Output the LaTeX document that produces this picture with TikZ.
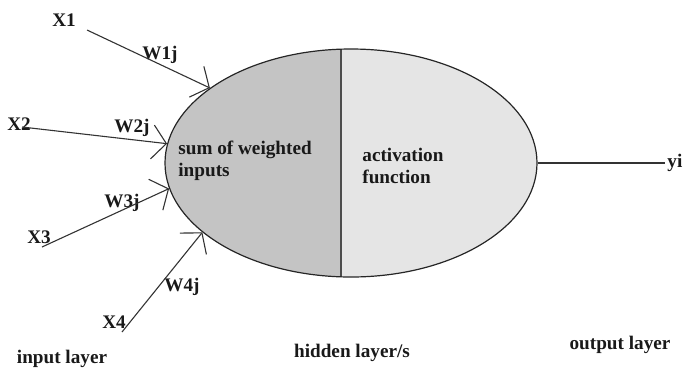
\documentclass[tikz,border=0pt]{standalone}
\usepackage{fontspec}
\setmainfont{Liberation Serif}
\usetikzlibrary{positioning,arrows.meta,shapes.geometric}

\begin{document}
\begin{tikzpicture}[
  x=0.5pt, y=-0.5pt,
  lbl/.style={font=\bfseries\fontsize{9.6}{11}\selectfont, inner sep=1pt, text=black!90},
  txt/.style={lbl, align=left, anchor=west},
  neuronshape/.style={ellipse, draw=black!85, line width=0.6pt, fill=black!10,
              minimum width=186pt, minimum height=114pt, inner sep=0pt,
              path picture={
                \fill[black!23] (path picture bounding box.south west)
                  rectangle ([xshift=-5pt]path picture bounding box.north);
                \draw[black!70, line width=0.8pt] ([xshift=-5pt]path picture bounding box.north)
                  -- ([xshift=-5pt]path picture bounding box.south);
              }},
  wire/.style={draw=black!80, line width=0.55pt},
  arr/.style={wire, -{Straight Barb[length=7pt, width=17pt]}}
]
\useasboundingbox (0,0) rectangle (686,371);

%% Neuron (hidden layer)
\node[neuronshape] (neuron) at (351,163) {};
\node[txt] (sumtext) at (176,161) {sum of weighted\\inputs};
\node[txt] (acttext) at (360,166) {activation\\function};

%% Inputs and weights
\node[lbl] (x1) at (64,20) {X1};
\node[lbl] (x2) at (19,124) {X2};
\node[lbl] (x3) at (39,237) {X3};
\node[lbl] (x4) at (114,322) {X4};
\node[lbl] (w1) at (160,55) {W1j};
\node[lbl] (w2) at (132,128) {W2j};
\node[lbl] (w3) at (122,203) {W3j};
\node[lbl] (w4) at (182,287) {W4j};

\coordinate (s1) at (87,30);
\coordinate (s2) at (22,127);
\coordinate (s3) at (42,247);
\coordinate (s4) at (122,332);
\draw[arr] (s1) -- (neuron.152);
\draw[arr] (s2) -- (neuron.174);
\draw[arr] (s3) -- (neuron.188);
\draw[arr] (s4) -- (neuron.205);

%% Output
\coordinate (yend) at (665,163);
\draw[wire] (neuron.east) -- (yend);
\node[lbl, right=0pt of yend] (yi) {yi};

%% Layer captions
\node[lbl] (inlayer) at (62,359) {input layer};
\node[lbl] (hidlayer) at (352,353) {hidden layer/s};
\node[lbl] (outlayer) at (620,345) {output layer};
\end{tikzpicture}
\end{document}
